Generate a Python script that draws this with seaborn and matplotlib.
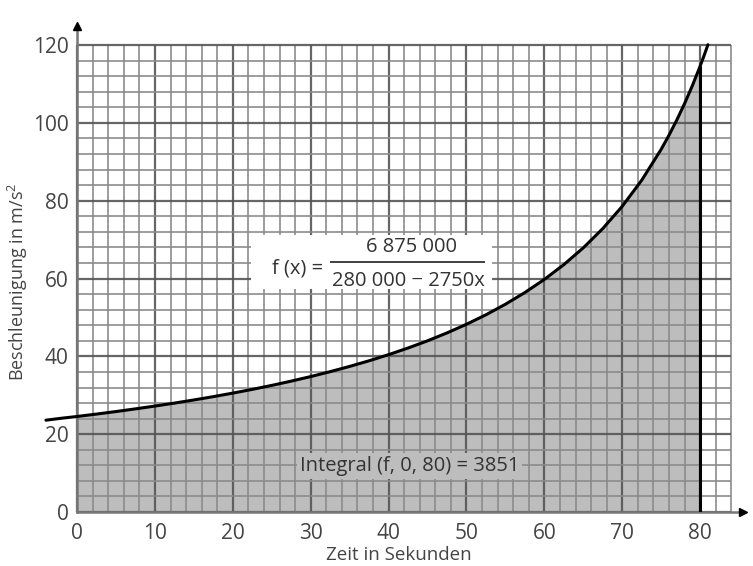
import numpy as np
import matplotlib.pyplot as plt
import matplotlib.patches as mpatches
import seaborn as sns

# Werte (Zeit in s, Beschleunigung in m/s²)
zeit = [-4, -2, 0, 2.5, 5, 7.5, 10, 12.5, 15, 17.5, 20, 22.5, 25, 27.5, 30,
        32.5, 35, 37.5, 40, 42.5, 45, 47.5, 50, 52.5, 55, 57.5, 60, 62.5,
        65, 67.5, 70, 72.5, 75, 76, 77, 78, 79, 80, 80.5, 81]
beschl = [23.6, 24.1, 24.55, 25.17, 25.82, 26.51, 27.23, 27.99, 28.8, 29.65,
          30.56, 31.52, 32.54, 33.64, 34.81, 36.07, 37.42, 38.87, 40.44,
          42.15, 44.0, 46.03, 48.25, 50.69, 53.4, 56.41, 59.78, 63.58, 67.9,
          72.85, 78.57, 85.27, 93.22, 96.83, 100.73, 104.96, 109.56, 114.58,
          117.27, 120.09]
x_ticks = [0, 10, 20, 30, 40, 50, 60, 70, 80]
y_ticks = [0, 20, 40, 60, 80, 100, 120]
integral_label = "Integral (f, 0, 80) = 3851"

sns.set_theme(style="white")
plt.rcParams["font.family"] = ["Open Sans", "DejaVu Sans"]
plt.rcParams["mathtext.fontset"] = "custom"
plt.rcParams["mathtext.rm"] = "Open Sans"

FILL = "#bdbdbd"
TXT = "#444444"

fig = plt.figure(figsize=(7.53, 5.66), dpi=100)
ax = fig.add_axes([0.061, 0.0954, 0.936, 0.873])
ax.set_xlim(-4, 86.5)
ax.set_ylim(0, 127)

# Fläche unter der Kurve von 0 bis 80
z = np.array(zeit)
b = np.array(beschl)
m = (z >= 0) & (z <= 80)
ax.fill_between(z[m], 0, b[m], color=FILL, lw=0, zorder=1)

# Millimeterpapier-Gitter
for xv in np.arange(0, 85, 2):
    major = xv % 10 == 0
    ax.vlines(xv, 0, 120, color="#555555" if major else "#8a8a8a",
              lw=1.6 if major else 1.3, alpha=0.9, zorder=2)
for yv in np.arange(0, 121, 4):
    major = yv % 20 == 0
    ax.hlines(yv, 0, 84, color="#555555" if major else "#8a8a8a",
              lw=1.6 if major else 1.3, alpha=0.9, zorder=2)

sns.lineplot(x=zeit, y=beschl, ax=ax, color="black", lw=2.2, zorder=5,
             clip_on=False)
ax.vlines(80, 0, beschl[zeit.index(80)], color="black", lw=2.2, zorder=5)

# Achsen mit Pfeilen
for s in ["top", "right"]:
    ax.spines[s].set_visible(False)
ax.spines["left"].set_position(("data", 0))
ax.spines["bottom"].set_position(("data", 0))
ax.spines["left"].set_bounds(0, 125)
ax.spines["bottom"].set_bounds(0, 85)
ax.spines["left"].set_color("#777777")
ax.spines["bottom"].set_color("#777777")
ax.spines["left"].set_linewidth(1.8)
ax.spines["bottom"].set_linewidth(1.8)
ax.plot(0, 125, marker="^", color="black", ms=6, clip_on=False, zorder=6)
ax.plot(85.5, 0, marker=">", color="black", ms=6, clip_on=False, zorder=6)

ax.set_xticks(x_ticks)
ax.set_yticks(y_ticks)
ax.tick_params(length=0, labelsize=15, labelcolor=TXT)
ax.tick_params(axis="x", pad=8)
ax.tick_params(axis="y", pad=6)
ax.grid(False)

ax.set_xlabel("Zeit in Sekunden", fontsize=13.5, color=TXT, labelpad=1)
ax.set_ylabel(r"Beschleunigung in m/s$^{\mathregular{2}}$", fontsize=13,
              color=TXT)
ax.yaxis.set_label_coords(-0.022, 0.465)

# Funktionsterm im weißen Kasten
ax.add_patch(mpatches.Rectangle((22.3, 57.3), 31.0, 14.0, facecolor="white",
                                edgecolor="none", zorder=6))
ax.text(28.3, 62.7, "f (x) =", fontsize=14.5, color="#333333",
        ha="center", va="center", zorder=7)
ax.text(42.9, 68.0, "6 875 000", fontsize=14.5, color="#333333",
        ha="center", va="center", zorder=7)
ax.hlines(64.3, 32.5, 52.4, color="#333333", lw=1.3, zorder=7)
ax.text(42.5, 59.5, "280 000 − 2750x", fontsize=14.5, color="#333333",
        ha="center", va="center", zorder=7)

# Integralwert
ax.text(42.7, 11.8, integral_label, fontsize=14.5, color="#333333",
        ha="center", va="center", zorder=7,
        bbox=dict(facecolor=FILL, edgecolor="none", pad=2))

fig.savefig("out.png", dpi=100)
